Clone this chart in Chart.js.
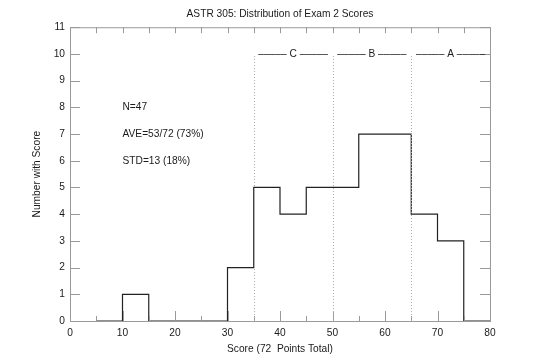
<!DOCTYPE html>
<html>
<head>
<meta charset="utf-8">
<script src="https://cdn.jsdelivr.net/npm/chart.js@4/dist/chart.umd.min.js"></script>
<style>
  body { margin: 0; background: #fff; }
  canvas { display: block; }
</style>
</head>
<body>
<canvas id="grafico_notas" width="538" height="364"></canvas>
<script>
// histogram bins: left edge of each bin (last entry closes the outline)
var binEdges = [5, 10, 15, 20, 25, 30, 35, 40, 45, 50, 55, 60, 65, 70, 75, 80];
var binCounts = [0, 1, 0, 0, 0, 2, 5, 4, 5, 5, 7, 7, 4, 3, 0, 0];
var gradeCuts = [35, 50, 65];
var gradeNames = ["C", "B", "A"];
var gradeCenters = [42.5, 57.5, 72.5];
var statLines = ["N=47", "AVE=53/72 (73%)", "STD=13 (18%)"];
var statRows = [8, 7, 6];

var fonte = "Liberation Sans, Arial, Helvetica, sans-serif";
var corTexto = "#1a1a1a";
var corMoldura = "#9a9a9a";

var moldura = {
    id: "moldura",
    afterDatasetsDraw: function (chart) {
        var ctx = chart.ctx;
        var a = chart.chartArea;
        var x = chart.scales.x, y = chart.scales.y;
        ctx.save();
        ctx.strokeStyle = corMoldura;
        ctx.lineWidth = 1;
        ctx.strokeRect(a.left + 0.5, a.top + 0.5, a.right - a.left, a.bottom - a.top);
        // x ticks, inside, bottom and top
        for (var v = x.min; v <= x.max; v += 5) {
            var px = Math.round(x.getPixelForValue(v)) + 0.5;
            var major = (v % 10 === 0);
            ctx.beginPath();
            ctx.moveTo(px, a.bottom);
            ctx.lineTo(px, a.bottom - (major ? 10 : 5));
            ctx.moveTo(px, a.top);
            ctx.lineTo(px, a.top + 6);
            ctx.stroke();
        }
        // y ticks, inside, left and right
        y.ticks.forEach(function (t) {
            var py = Math.round(y.getPixelForValue(t.value)) + 0.5;
            ctx.beginPath();
            ctx.moveTo(a.left, py);
            ctx.lineTo(a.left + 10, py);
            ctx.moveTo(a.right, py);
            ctx.lineTo(a.right - 10, py);
            ctx.stroke();
        });
        // grade boundaries
        ctx.setLineDash([1, 2]);
        ctx.strokeStyle = "#aaa";
        gradeCuts.forEach(function (c) {
            var px = Math.round(x.getPixelForValue(c)) + 0.5;
            ctx.beginPath();
            ctx.moveTo(px, y.getPixelForValue(0));
            ctx.lineTo(px, y.getPixelForValue(10) + 2);
            ctx.stroke();
        });
        ctx.setLineDash([]);
        ctx.fillStyle = corTexto;
        ctx.font = "10.2px " + fonte;
        ctx.textBaseline = "middle";
        ctx.textAlign = "center";
        gradeNames.forEach(function (g, i) {
            ctx.fillText("\u2013\u2013\u2013\u2013\u2013 " + g + " \u2013\u2013\u2013\u2013\u2013", x.getPixelForValue(gradeCenters[i]), y.getPixelForValue(10));
        });
        ctx.textAlign = "left";
        statLines.forEach(function (s, i) {
            ctx.fillText(s, x.getPixelForValue(10), y.getPixelForValue(statRows[i]));
        });
        ctx.restore();
    }
};

var ctx = document.getElementById("grafico_notas").getContext("2d");
var myChart = new Chart(ctx, {
    type: "line",
    data: {
        datasets: [{
            data: binEdges.map(function (e, i) { return { x: e, y: binCounts[i] }; }),
            stepped: "before",
            borderColor: "#222",
            borderWidth: 1.2,
            pointRadius: 0,
            fill: false,
            clip: false
        }]
    },
    options: {
        responsive: false,
        animation: false,
        layout: { padding: { left: 0, right: 48, top: 0, bottom: 0 } },
        plugins: {
            legend: { display: false },
            tooltip: { enabled: false },
            title: {
                display: true,
                text: "ASTR 305: Distribution of Exam 2 Scores",
                fullSize: false,
                color: corTexto,
                font: { family: fonte, size: 10.2, weight: "normal", lineHeight: 1.2 },
                padding: { top: 8, bottom: 7 }
            }
        },
        scales: {
            x: {
                type: "linear",
                min: 0,
                max: 80,
                ticks: { stepSize: 10, padding: 6, color: corTexto, font: { family: fonte, size: 10.2 } },
                grid: { display: false, drawTicks: false },
                border: { display: false },
                title: {
                    display: true,
                    text: "Score (72  Points Total)",
                    color: corTexto,
                    font: { family: fonte, size: 10.2, lineHeight: 1.2 },
                    padding: { top: 0, bottom: 9 }
                },
                afterFit: function (s) { s.height = 43; }
            },
            y: {
                min: 0,
                max: 11,
                ticks: { stepSize: 1, padding: 5, color: corTexto, font: { family: fonte, size: 10.2 } },
                grid: { display: false, drawTicks: false },
                border: { display: false },
                title: {
                    display: true,
                    text: "Number with Score",
                    color: corTexto,
                    font: { family: fonte, size: 10.2, lineHeight: 1.2 },
                    padding: { top: 31, bottom: 0 }
                },
                afterFit: function (s) { s.width = 70; }
            }
        }
    },
    plugins: [moldura]
});
</script>
</body>
</html>
